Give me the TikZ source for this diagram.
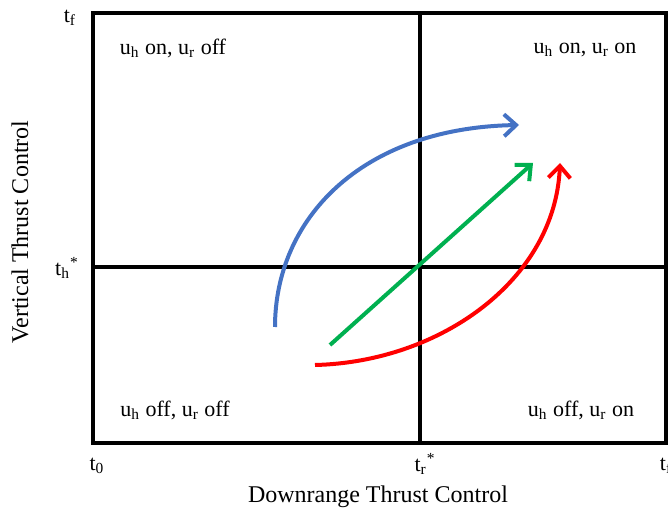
\documentclass[tikz,border=0pt]{standalone}
\usepackage{fontspec}
\setmainfont{Liberation Serif}
\usetikzlibrary{positioning,arrows.meta}
\definecolor{ctrlblue}{RGB}{68,114,196}
\definecolor{ctrlgreen}{RGB}{0,176,80}
\definecolor{ctrlred}{RGB}{255,0,0}
\tikzset{
  frame/.style={line width=2pt, draw=black},
  tick/.style={font=\fontsize{11}{13}\selectfont, inner sep=1pt},
  quad/.style={font=\fontsize{11}{13}\selectfont, inner sep=1pt},
  axlabel/.style={font=\fontsize{12}{14}\selectfont, inner sep=1pt},
  traj/.style={line width=2pt, -{Straight Barb[length=6pt,width=11pt,line width=2pt]}},
}
\newcommand{\ctrl}[2]{u\textsubscript{h} #1, u\textsubscript{r} #2}
\begin{document}
\begin{tikzpicture}[x=0.5pt, y=-0.5pt]
  \useasboundingbox (0,0) rectangle (668,512);
  \coordinate (bl) at (93,443);
  \coordinate (tr) at (666,13);
  \coordinate (mt) at (420,13);
  \coordinate (mb) at (420,443);
  \coordinate (ml) at (93,267);
  \coordinate (mr) at (666,267);
  \draw[frame] (bl) rectangle (tr);
  \draw[frame] (mt) -- (mb);
  \draw[frame] (ml) -- (mr);
  % quadrant labels
  \node[quad] (q1) at (173,48) {\ctrl{on}{off}};
  \node[quad] (q2) at (585,50) {\ctrl{on}{on}};
  \node[quad] (q3) at (175,410) {\ctrl{off}{off}};
  \node[quad] (q4) at (581,410) {\ctrl{off}{on}};
  % tick labels
  \node[tick] (tft) at (70,18) {t\textsubscript{f}};
  \node[tick] (ths) at (67,268) {t\textsubscript{h}\textsuperscript{*}};
  \node[tick] (tz) at (97,466) {t\textsubscript{0}};
  \node[tick] (trs) at (425,464) {t\textsubscript{r}\textsuperscript{*}};
  \node[tick] (tfr) at (666,466) {t\textsubscript{f}};
  \node[axlabel] (xlab) at (378,497) {Downrange Thrust Control};
  \node[axlabel, rotate=90] (ylab) at (20,232) {Vertical Thrust Control};
  % trajectories
  \coordinate (b0) at (275,327);
  \coordinate (b1) at (519,125);
  \coordinate (g0) at (330,345);
  \coordinate (g1) at (533,163);
  \coordinate (r0) at (315,365);
  \coordinate (r1) at (560,163);
  \draw[traj, ctrlblue] (b0) .. controls (275,220) and (360,128) .. (b1);
  \draw[traj, ctrlgreen] (g0) -- (g1);
  \draw[traj, ctrlred] (r0) .. controls (440,362) and (555,280) .. (r1);
\end{tikzpicture}
\end{document}
